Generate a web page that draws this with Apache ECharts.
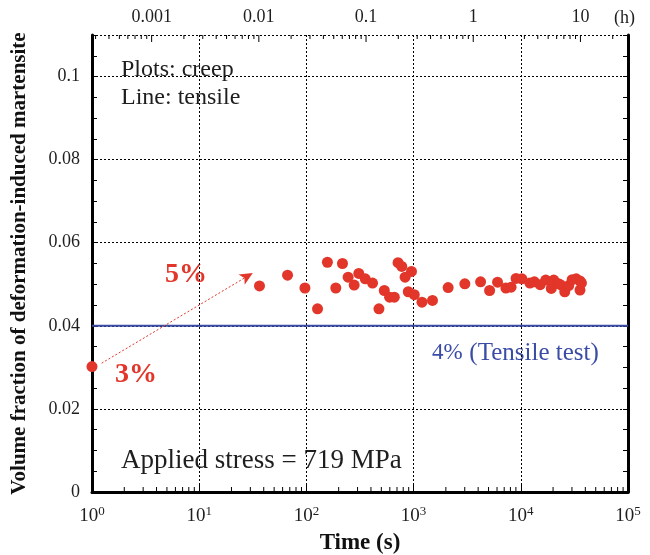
<!DOCTYPE html>
<html>
<head>
<meta charset="utf-8">
<script src="https://cdn.jsdelivr.net/npm/echarts@6/dist/echarts.min.js"></script>
<style>
  html, body { margin: 0; padding: 0; background: #fff; }
  #chart { width: 650px; height: 555px; }
</style>
</head>
<body>
<div id="chart"></div>
<script>
// Creep test: time (s) vs. volume fraction of deformation-induced martensite
const creepTime = [36.5, 66.7, 96.9, 127, 157, 217, 188, 245, 308, 279, 354, 414, 533, 475, 597,
  661, 716, 776, 955, 833, 892, 1015, 1197, 1500, 2100, 3006, 4215, 5115, 6070, 7258,
  8117, 9035, 10240, 12160, 13390, 15170, 17090, 19240, 20290, 22200, 23420, 25700, 28000, 30130, 32900,
  35650, 35650, 36800];
const creepFraction = [0.0496, 0.0522, 0.0491, 0.0441, 0.0553, 0.0550, 0.0491, 0.0517, 0.0526, 0.0498,
  0.0513, 0.0503, 0.0485, 0.0441, 0.0469, 0.0469, 0.0552, 0.0543, 0.0531, 0.0517,
  0.0482, 0.0475, 0.0457, 0.0461, 0.0492, 0.0501, 0.0506, 0.0485, 0.0505, 0.0491,
  0.0493, 0.0514, 0.0513, 0.0503, 0.0506, 0.0499, 0.0510, 0.0490, 0.0510, 0.0502,
  0.0499, 0.0482, 0.0497, 0.0511, 0.0513, 0.0508, 0.0486, 0.0503];

// Fraction after loading (3% strain), at t = 1 s
const loadingPoint = [[1, 0.0302]];
// Arrow from the 3% state toward the 5% creep state
const arrowFrom = [1.23, 0.0310];
const arrowTo = [31.6, 0.0527];
// Tensile test level (4% strain)
const tensileLevel = 0.04;

// Axis ranges and ticks
const timeMin = 1, timeMax = 1e5;          // seconds
const fracMin = 0, fracMax = 0.11;
const fracStep = 0.02, fracMinorStep = 0.005;
const hourLabels = { '-3': '0.001', '-2': '0.01', '-1': '0.1', '0': '1', '1': '10' };
const secondDecades = [1, 10, 100, 1000, 10000];
const hourDecades = [0.0001, 0.001, 0.01, 0.1, 1, 10];
const minorMultipliers = [2, 3, 4, 5, 6, 7, 8, 9];

const SERIF = '"Liberation Serif", "DejaVu Serif", serif';
const RED = '#e2362a';
const BLUE = '#3a4ca5';
const INK = '#1e1e1e';

const hourMin = timeMin / 3600, hourMax = timeMax / 3600;

// tick values for the log axes
const bottomMinor = [];
secondDecades.forEach(d => minorMultipliers.forEach(m => bottomMinor.push(d * m)));
const topMinor = [];
hourDecades.forEach(d => minorMultipliers.forEach(m => {
  const v = d * m;
  if (v > hourMin && v < hourMax) topMinor.push(v);
}));
const topMajor = hourDecades.filter(v => v > hourMin && v < hourMax);

function tickSeries(name, values, xAxisIndex, atTop, len) {
  return {
    name: name,
    type: 'custom',
    xAxisIndex: xAxisIndex,
    yAxisIndex: 0,
    silent: true,
    clip: false,
    z: 5,
    data: values.map(v => [v, atTop ? fracMax : fracMin]),
    renderItem: function (params, api) {
      const p = api.coord([api.value(0), api.value(1)]);
      const dir = atTop ? 1 : -1;
      return {
        type: 'line',
        shape: { x1: p[0], y1: p[1], x2: p[0], y2: p[1] + dir * len },
        style: { stroke: '#000', lineWidth: 1 }
      };
    }
  };
}

function note(x, y, text, font, fill) {
  return { type: 'text', x: x, y: y, style: { text: text, font: font, fill: fill, align: 'left', verticalAlign: 'middle' } };
}

const chart = echarts.init(document.getElementById('chart'), null, { renderer: 'canvas' });

const option = {
  animation: false,
  backgroundColor: '#fff',
  grid: { left: 92, right: 22, top: 35, bottom: 63, outerBoundsMode: 'none', containLabel: false },
  xAxis: [
    {
      type: 'log', logBase: 10, position: 'bottom',
      min: timeMin, max: timeMax,
      name: 'Time (s)', nameLocation: 'middle', nameGap: 40,
      nameTextStyle: { fontFamily: SERIF, fontSize: 23, fontWeight: 'bold', color: '#111' },
      axisLine: { show: true, lineStyle: { color: '#000', width: 3 } },
      axisTick: { show: true, inside: true, length: 7, lineStyle: { color: '#000', width: 1 } },
      splitLine: { show: true, lineStyle: { color: '#000', width: 1, type: [2, 2] } },
      axisLabel: {
        margin: 13,
        formatter: function (v) {
          const e = Math.round(Math.log10(v));
          return '{b|10}{s|' + e + '}';
        },
        rich: {
          b: { fontFamily: SERIF, fontSize: 19, color: INK },
          s: { fontFamily: SERIF, fontSize: 13, color: INK, verticalAlign: 'top', padding: [0, 0, 9, 0] }
        }
      }
    },
    {
      type: 'log', logBase: 10, position: 'top',
      min: hourMin, max: hourMax,
      axisLine: { show: true, lineStyle: { color: '#000', width: 2 } },
      axisTick: { show: false },
      splitLine: { show: false },
      axisLabel: {
        margin: 9,
        fontFamily: SERIF, fontSize: 18, color: INK,
        showMinLabel: false, showMaxLabel: false,
        formatter: function (v) {
          const l = Math.log10(v);
          const e = Math.round(l);
          if (Math.abs(l - e) > 1e-6) return '';
          return hourLabels[String(e)] || '';
        }
      }
    }
  ],
  yAxis: [
    {
      type: 'value', position: 'left',
      min: fracMin, max: fracMax, interval: fracStep,
      name: 'Volume fraction of deformation-induced martensite',
      nameLocation: 'middle', nameGap: 62, nameRotate: 90,
      nameTextStyle: { fontFamily: SERIF, fontSize: 21, fontWeight: 'bold', color: '#111' },
      axisLine: { show: true, lineStyle: { color: '#000', width: 3 } },
      axisTick: { show: false },
      splitLine: { show: true, lineStyle: { color: '#000', width: 1, type: [2, 2] } },
      axisLabel: {
        margin: 12, showMaxLabel: false,
        fontFamily: SERIF, fontSize: 18, color: INK,
        formatter: v => (v === 0 ? '0' : String(+v.toFixed(2)))
      }
    },
    {
      type: 'value', position: 'right',
      min: fracMin, max: fracMax, interval: fracMinorStep,
      axisLine: { show: true, lineStyle: { color: '#000', width: 3 } },
      axisTick: { show: true, inside: true, length: 5, lineStyle: { color: '#000' } },
      splitLine: { show: false },
      axisLabel: { show: false }
    },
    {
      type: 'value', position: 'left',
      min: fracMin, max: fracMax, interval: fracMinorStep,
      axisLine: { show: false },
      axisTick: { show: true, inside: true, length: 5, lineStyle: { color: '#000' } },
      splitLine: { show: false },
      axisLabel: { show: false }
    }
  ],
  series: [
    tickSeries('bottomMinorTicks', bottomMinor, 0, false, 5),
    tickSeries('topMinorTicks', topMinor, 1, true, 4),
    tickSeries('topMajorTicks', topMajor, 1, true, 7),
    {
      name: 'Tensile',
      type: 'line',
      xAxisIndex: 0, yAxisIndex: 0,
      data: [[timeMin, tensileLevel], [timeMax, tensileLevel]],
      symbol: 'none',
      lineStyle: { color: BLUE, width: 2 },
      z: 3
    },
    {
      name: 'Arrow',
      type: 'line',
      xAxisIndex: 0, yAxisIndex: 0,
      data: [],
      markLine: {
        silent: true,
        symbol: ['none', 'arrow'],
        symbolSize: [9, 13],
        label: { show: false },
        lineStyle: { color: RED, width: 1, type: [2, 2] },
        data: [[{ coord: arrowFrom }, { coord: arrowTo }]]
      }
    },
    {
      name: 'Loading',
      type: 'scatter',
      xAxisIndex: 0, yAxisIndex: 0,
      data: loadingPoint,
      symbol: 'circle', symbolSize: 11,
      itemStyle: { color: RED, opacity: 1 },
      clip: false,
      z: 6
    },
    {
      name: 'Creep',
      type: 'scatter',
      xAxisIndex: 0, yAxisIndex: 0,
      data: creepTime.map((t, i) => [t, creepFraction[i]]),
      symbol: 'circle', symbolSize: 11,
      itemStyle: { color: RED, opacity: 1 },
      z: 6
    }
  ],
  graphic: [
    note(614, 18, '(h)', '18px ' + SERIF, INK),
    note(121, 70, 'Plots: creep', '24px ' + SERIF, INK),
    note(121, 98, 'Line: tensile', '24px ' + SERIF, INK),
    note(121, 461, 'Applied stress = 719 MPa', '27px ' + SERIF, INK),
    note(165, 275, '5%', 'bold 28px ' + SERIF, RED),
    note(115, 375, '3%', 'bold 28px ' + SERIF, RED),
    {
      type: 'text', x: 432, y: 353,
      style: {
        text: '{a|4%}  {b|(Tensile test)}',
        verticalAlign: 'middle',
        rich: {
          a: { fontFamily: SERIF, fontSize: 23, fill: BLUE },
          b: { fontFamily: SERIF, fontSize: 25, fill: BLUE }
        }
      }
    }
  ]
};

chart.setOption(option);
</script>
</body>
</html>
